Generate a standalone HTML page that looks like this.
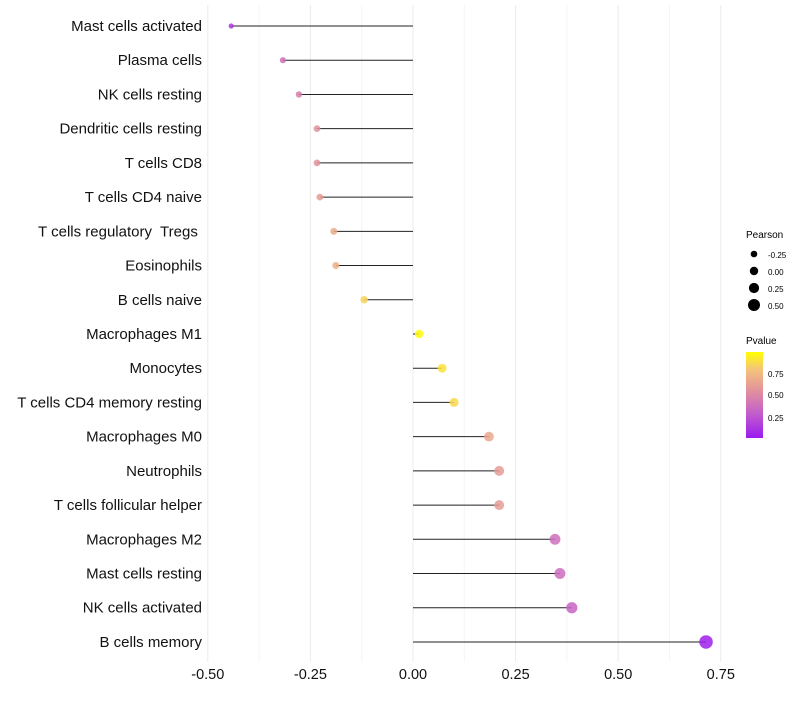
<!DOCTYPE html>
<html><head><meta charset="utf-8"><style>
body{margin:0;background:#fff;font-family:"Liberation Sans",sans-serif}
svg text{font-family:"Liberation Sans",sans-serif;white-space:pre}
</style></head><body>
<svg id="chart" width="800" height="700">
<defs><linearGradient id="pg" x1="0" y1="1" x2="0" y2="0">
<stop offset="0" stop-color="#9b1bf0"/><stop offset="0.3" stop-color="#c561c9"/><stop offset="0.55" stop-color="#e2919c"/><stop offset="0.8" stop-color="#f4c47a"/><stop offset="1" stop-color="#ffff00"/></linearGradient></defs>
<g id="grid"></g><g id="marks"></g><g id="labels"></g>
<g>
<text x="746" y="238" font-size="10">Pearson</text>
<circle cx="754" cy="254" r="3.3"/><text x="768" y="258" font-size="8">-0.25</text>
<circle cx="754" cy="271" r="4.2"/><text x="768" y="275" font-size="8">0.00</text>
<circle cx="754" cy="288" r="5.1"/><text x="768" y="292" font-size="8">0.25</text>
<circle cx="754" cy="305" r="6"/><text x="768" y="309" font-size="8">0.50</text>
</g>
<g>
<text x="746" y="344" font-size="10">Pvalue</text>
<rect x="746" y="352" width="17" height="86" fill="url(#pg)"/>
<text x="768" y="377" font-size="8">0.75</text>
<text x="768" y="398" font-size="8">0.50</text>
<text x="768" y="421" font-size="8">0.25</text>
</g>
</svg>
<script>
const cells=["Mast cells activated","Plasma cells","NK cells resting","Dendritic cells resting","T cells CD8","T cells CD4 naive","T cells regulatory  Tregs ","Eosinophils","B cells naive","Macrophages M1","Monocytes","T cells CD4 memory resting","Macrophages M0","Neutrophils","T cells follicular helper","Macrophages M2","Mast cells resting","NK cells activated","B cells memory"];
const pearson=[-0.443,-0.317,-0.278,-0.234,-0.234,-0.227,-0.193,-0.188,-0.119,0.015,0.071,0.100,0.185,0.210,0.210,0.346,0.358,0.387,0.714];
const pvalue=[0.12,0.38,0.45,0.55,0.55,0.6,0.68,0.7,0.85,0.98,0.9,0.87,0.66,0.6,0.6,0.38,0.36,0.32,0.02];
const ticks=[-0.5,-0.25,0,0.25,0.5,0.75];
const tickLabels=["-0.50","-0.25","0.00","0.25","0.50","0.75"];
const NS="http://www.w3.org/2000/svg";
const X=v=>413+v*410.4, Y=i=>26+i*34.22;
const R=v=>Math.max(1.3,4.2+3.6*v);
const stops=[[0,[155,27,240]],[0.3,[197,97,201]],[0.55,[226,145,156]],[0.8,[244,196,122]],[1,[255,255,0]]];
function col(p){for(let k=1;k<stops.length;k++){if(p<=stops[k][0]){const a=stops[k-1],b=stops[k],t=(p-a[0])/(b[0]-a[0]);return "rgb("+a[1].map((c,j)=>Math.round(c+(b[1][j]-c)*t)).join(",")+")";}}return "rgb(255,255,0)";}
function mk(t,a,par){const e=document.createElementNS(NS,t);for(const k in a)e.setAttribute(k,a[k]);document.getElementById(par).appendChild(e);return e;}
ticks.forEach((t,i)=>{
 const g=mk("line",{x1:X(t),x2:X(t),y1:5,y2:662,stroke:"#ebebeb","stroke-width":1},"grid");
 
 
 if(i<ticks.length-1){const m=mk("line",{x1:X(t+0.125),x2:X(t+0.125),y1:5,y2:662,stroke:"#f5f5f5","stroke-width":1},"grid");
 
 }
 const l=mk("text",{x:X(t),y:679,"font-size":14.5,"text-anchor":"middle",fill:"#111"},"labels");l.textContent=tickLabels[i];
 
 
});
cells.forEach((c,i)=>{
 const s=mk("line",{x1:X(0),x2:X(pearson[i]),y1:Y(i),y2:Y(i),stroke:"#222","stroke-width":1},"marks");
 
 
 const d=mk("circle",{cx:X(pearson[i]),cy:Y(i),r:R(pearson[i]),fill:col(pvalue[i]),"fill-opacity":0.85},"marks");
 
 
 const t=mk("text",{x:202,y:Y(i)+5,"font-size":15,"text-anchor":"end",fill:"#111"},"labels");t.textContent=c;
 
 
});
</script>
</body></html>
